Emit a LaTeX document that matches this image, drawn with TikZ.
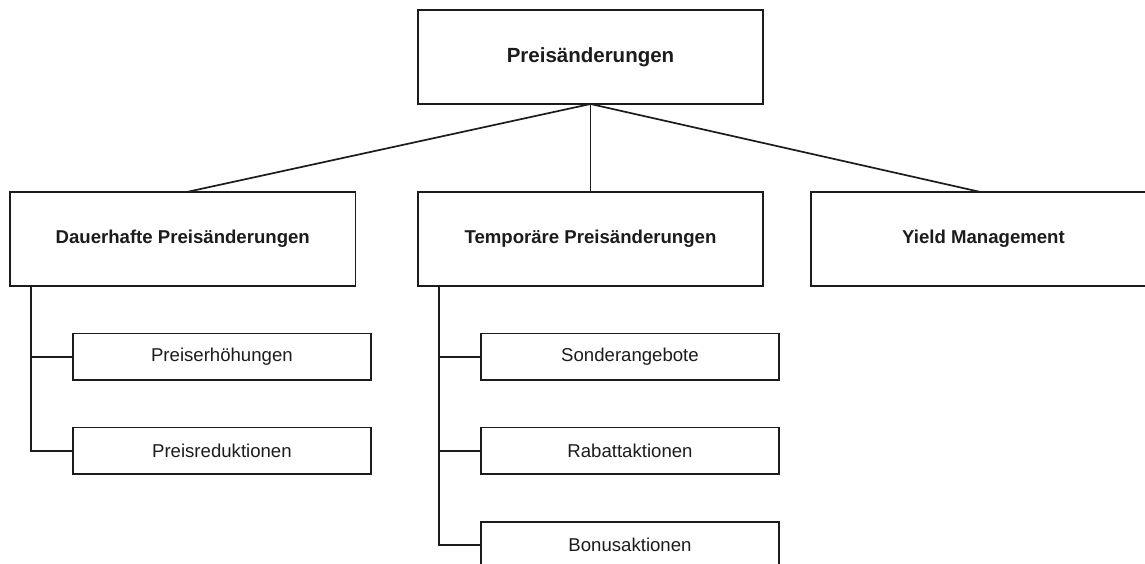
\documentclass[tikz,border=0pt]{standalone}
\usepackage{fontspec}
\setmainfont{Liberation Sans}
\usetikzlibrary{calc}
\definecolor{ink}{HTML}{1C1C1C}
\tikzset{
  box/.style={draw=ink, line width=1.7pt, fill=white, inner sep=0pt, outer sep=0pt,
    text=ink, align=center},
  rootbox/.style={box, minimum width=345pt, minimum height=94pt,
    font=\fontsize{20.5}{24}\selectfont\bfseries},
  groupbox/.style={box, minimum width=345.5pt, minimum height=94pt,
    font=\fontsize{18.6}{22}\selectfont\bfseries},
  leafbox/.style={box, minimum width=298.5pt, minimum height=46.5pt,
    font=\fontsize{18.6}{22}\selectfont},
  link/.style={draw=ink, line width=1.7pt},
}
\begin{document}
\begin{tikzpicture}[x=1pt, y=-1pt]
  \clip (0,0) rectangle (1145,564);
  \fill[white] (0,0) rectangle (1145,564);

  % root
  \node[rootbox] (root) at (590.5,57) {Preisänderungen};

  % second level
  \node[groupbox] (dauer) at (182.75,239) {Dauerhafte Preisänderungen};
  \node[groupbox] (temp)  at (590.5,239)  {Temporäre Preisänderungen};
  \node[groupbox] (yield) at (983.5,239)  {Yield Management};

  % leaves
  \node[leafbox] (erh)   at (221.9,356.7) {Preiserhöhungen};
  \node[leafbox] (red)   at (221.9,450.8) {Preisreduktionen};
  \node[leafbox] (sond)  at (630,356.7)   {Sonderangebote};
  \node[leafbox] (rabatt) at (630,450.8)  {Rabattaktionen};
  \node[leafbox] (bonus) at (630,544.9)   {Bonusaktionen};

  % root to groups
  \draw[link] (root.south) -- ($(dauer.north)+(4,0)$);
  \draw[link] (root.south) -- (temp.north);
  \draw[link] (root.south) -- ($(yield.north)+(-3,0)$);

  % bracket connectors
  \coordinate (dauerstem) at ($(dauer.south west)+(21,0)$);
  \coordinate (tempstem)  at ($(temp.south west)+(21,0)$);
  \draw[link] (dauerstem) |- (erh.west);
  \draw[link] (dauerstem) |- (red.west);
  \draw[link] (tempstem) |- (sond.west);
  \draw[link] (tempstem) |- (rabatt.west);
  \draw[link] (tempstem) |- (bonus.west);
\end{tikzpicture}
\end{document}
